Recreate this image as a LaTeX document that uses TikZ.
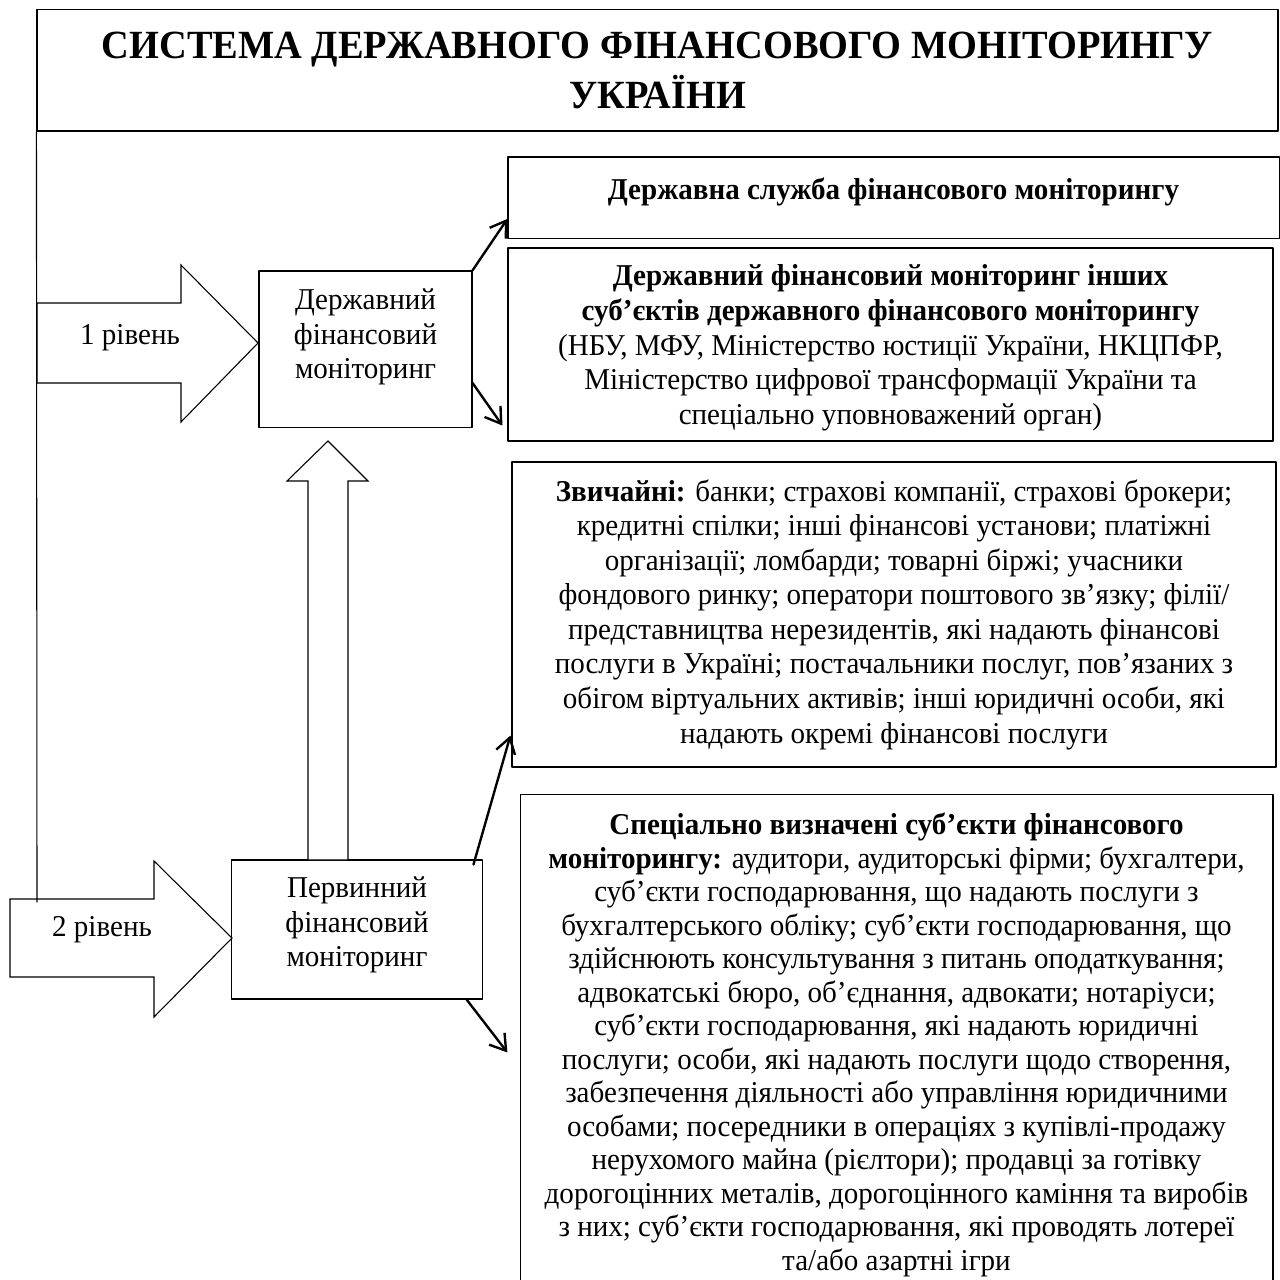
\documentclass[tikz,border=0pt]{standalone}
\usepackage{fontspec}
\setmainfont{Liberation Serif}[BoldFont={Liberation Serif Bold},FakeStretch=0.96]
\newfontfamily\headfont{Liberation Serif Bold}[FakeStretch=0.96]
\usetikzlibrary{arrows.meta}

\begin{document}
\begin{tikzpicture}[line cap=round,line join=round,>={Straight Barb[length=7pt,width=9pt]},x=0.4626pt,y=-0.4626pt,
	box/.style={draw,line width=0.5pt,inner sep=0pt,align=center,font=\fontsize{14}{16}\selectfont},
	link/.style={->,line width=1.1pt},
	bigarrow/.style={draw,line width=0.5pt,line join=miter,fill=white}]
		\useasboundingbox (0,0) rectangle (1280,1279);
		\clip (0,0) rectangle (1280,1279);
		% title
		\node [box,minimum width=574.1pt,minimum height=56.4pt,font=\headfont\fontsize{18.5}{23}\selectfont,text depth=-4pt] (title) at (657.5,70) {СИСТЕМА ДЕРЖАВНОГО ФІНАНСОВОГО МОНІТОРИНГУ\\УКРАЇНИ};
		% levels
		\draw [bigarrow] (37,303) -- (181,303) -- (181,265) -- (258,343) -- (181,422) -- (181,383) -- (37,383) -- cycle;
		\draw [bigarrow] (10,899) -- (154,899) -- (154,861) -- (232,938) -- (154,1017) -- (154,977) -- (10,977) -- cycle;
		\coordinate (lvltwo) at (37,902);
		\draw [line width=0.5pt] (title.south west) -- (lvltwo);
		\node [font=\fontsize{14}{16}\selectfont] (lvlone) at (130,338) {1 рівень};
		\node [font=\fontsize{14}{16}\selectfont] (lvltwolab) at (102,930) {2 рівень};
		% monitoring boxes
		\node [box,minimum width=98.5pt,minimum height=72.2pt,text depth=14pt] (dfm) at (365.5,349) {Державний\\фінансовий\\моніторинг};
		\node [box,minimum width=115.7pt,minimum height=64.3pt,text depth=7pt] (pfm) at (357,929.5) {Первинний\\фінансовий\\моніторинг};
		\draw [bigarrow] (308,860) -- (308,481) -- (287,481) -- (328,441) -- (368,481) -- (348,481) -- (348,860) -- cycle;
		% subjects
		\node [box,minimum width=356.7pt,minimum height=37.5pt,text depth=8pt] (sdfm) at (893.5,197.5) {\textbf{Державна служба фінансового моніторингу}};
		\node [box,minimum width=353.9pt,minimum height=89.3pt,text depth=-1.5pt] (inshi) at (890.5,344.5) {\textbf{Державний фінансовий моніторинг інших}\\\textbf{суб’єктів державного фінансового моніторингу}\\(НБУ, МФУ, Міністерство юстиції України, НКЦПФР,\\Міністерство цифрової трансформації України та\\спеціально уповноважений орган)};
		\node [box,minimum width=353.4pt,minimum height=141.1pt] (zv) at (894,614.5) {\textbf{Звичайні:} банки; страхові компанії, страхові брокери;\\кредитні спілки; інші фінансові установи; платіжні\\організації; ломбарди; товарні біржі; учасники\\фондового ринку; оператори поштового зв’язку; філії/\\представництва нерезидентів, які надають фінансові\\послуги в Україні; постачальники послуг, пов’язаних з\\обігом віртуальних активів; інші юридичні особи, які\\надають окремі фінансові послуги};
		\node [box,minimum width=348.3pt,minimum height=232.2pt,font=\fontsize{14}{15.5}\selectfont] (spec) at (896.5,1045) {\textbf{Спеціально визначені суб’єкти фінансового}\\\textbf{моніторингу:} аудитори, аудиторські фірми; бухгалтери,\\суб’єкти господарювання, що надають послуги з\\бухгалтерського обліку; суб’єкти господарювання, що\\здійснюють консультування з питань оподаткування;\\адвокатські бюро, об’єднання, адвокати; нотаріуси;\\суб’єкти господарювання, які надають юридичні\\послуги; особи, які надають послуги щодо створення,\\забезпечення діяльності або управління юридичними\\особами; посередники в операціях з купівлі-продажу\\нерухомого майна (рієлтори); продавці за готівку\\дорогоцінних металів, дорогоцінного каміння та виробів\\з них; суб’єкти господарювання, які проводять лотереї\\та/або азартні ігри};
		% links
		\draw [link] (dfm.north east) -- ([yshift=-9.9pt]sdfm.west);
		\draw [link] ([yshift=-15.7pt]dfm.east) -- ([xshift=-2.3pt,yshift=7.4pt]inshi.south west);
		\draw [link] ([xshift=-4.2pt,yshift=-2.3pt]pfm.north east) -- ([xshift=-0.5pt,yshift=14.8pt]zv.south west);
		\draw [link] ([xshift=-7.4pt]pfm.south east) -- ([xshift=-5.6pt,yshift=-119.8pt]spec.north west);
\end{tikzpicture}
\end{document}
